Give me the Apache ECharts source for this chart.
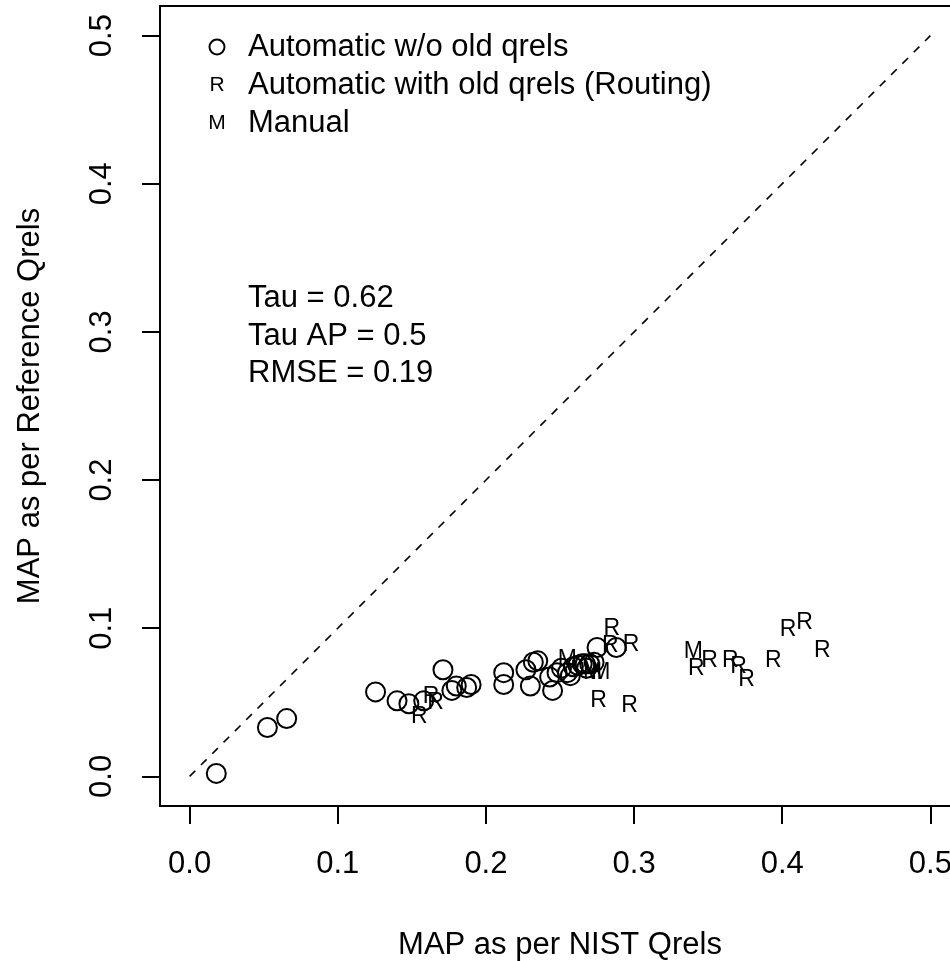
<!DOCTYPE html>
<html>
<head>
<meta charset="utf-8">
<script src="https://cdn.jsdelivr.net/npm/echarts@6/dist/echarts.min.js"></script>
<style>html,body{margin:0;padding:0;background:#fff;overflow:hidden;}#chart{width:950px;height:961px;}</style>
</head>
<body>
<div id="chart"></div>
<script>
// Data
const autoNoOld = [
  [0.018, 0.002], [0.0525, 0.033], [0.0655, 0.039], [0.1255, 0.057], [0.140, 0.051],
  [0.148, 0.049], [0.158, 0.051], [0.171, 0.072], [0.177, 0.058], [0.180, 0.061],
  [0.187, 0.060], [0.190, 0.062], [0.212, 0.070], [0.212, 0.062], [0.227, 0.072],
  [0.232, 0.077], [0.235, 0.078], [0.230, 0.061], [0.243, 0.067], [0.245, 0.058],
  [0.248, 0.070], [0.251, 0.073], [0.255, 0.070], [0.257, 0.068], [0.259, 0.074],
  [0.262, 0.075], [0.265, 0.076], [0.267, 0.076], [0.268, 0.073], [0.270, 0.076],
  [0.273, 0.077], [0.275, 0.087], [0.288, 0.087]
];
const routing = [
  [0.155, 0.040], [0.163, 0.054], [0.166, 0.050], [0.276, 0.051], [0.297, 0.048],
  [0.285, 0.100], [0.284, 0.088], [0.298, 0.089], [0.342, 0.073], [0.351, 0.078],
  [0.365, 0.078], [0.3705, 0.074], [0.376, 0.065], [0.394, 0.078], [0.404, 0.099],
  [0.415, 0.104], [0.427, 0.085]
];
const manual = [
  [0.255, 0.079], [0.272, 0.070], [0.2775, 0.070], [0.340, 0.084]
];
const diagonal = [[0, 0], [0.5, 0.5]];
const tickValues = [0, 0.1, 0.2, 0.3, 0.4, 0.5];
const legendLabels = ['Automatic w/o old qrels', 'Automatic with old qrels (Routing)', 'Manual'];
const statLines = ['Tau = 0.62', 'Tau AP = 0.5', 'RMSE = 0.19'];
const xTitle = 'MAP as per NIST Qrels';
const yTitle = 'MAP as per Reference Qrels';

const FONT = '"Liberation Sans", Arial, Helvetica, sans-serif';
const FS = 31;
const chart = echarts.init(document.getElementById('chart'), null, {renderer: 'canvas'});

function axisCommon(isX) {
  return {
    type: 'value',
    min: -0.02,
    max: 0.52,
    splitLine: {show: false},
    axisLine: {show: true, onZero: false, lineStyle: {color: '#000', width: 2}},
    axisTick: {show: true, inside: false, length: 18, lineStyle: {color: '#000', width: 2}, customValues: tickValues},
    axisLabel: {
      customValues: tickValues,
      formatter: v => Number(v).toFixed(1),
      fontSize: FS, color: '#000', fontFamily: FONT,
      margin: isX ? 43 : 42,
      rotate: isX ? 0 : 90
    },
    name: isX ? xTitle : yTitle,
    nameLocation: 'middle',
    nameGap: isX ? 124 : 114,
    nameRotate: isX ? 0 : 90,
    nameTextStyle: {fontSize: FS, color: '#000', fontFamily: FONT}
  };
}

const letterSeries = (data, ch) => ({
  type: 'scatter',
  data: data,
  symbol: 'circle',
  symbolSize: 1,
  itemStyle: {color: 'rgba(0,0,0,0)', opacity: 1},
  label: {show: true, position: 'inside', formatter: ch, fontSize: 23, color: '#000',
          fontFamily: FONT, textBorderWidth: 0, opacity: 1},
  emphasis: {disabled: true},
  z: 3
});

const legendY = [47, 85, 123];
const statY = [298, 336, 373];
const graphics = [
  {type: 'circle', shape: {cx: 217, cy: legendY[0], r: 7.5}, style: {fill: 'none', stroke: '#000', lineWidth: 2}},
  {type: 'text', style: {x: 217, y: legendY[1], text: 'R', font: '21px ' + FONT, fill: '#000', align: 'center', verticalAlign: 'middle'}},
  {type: 'text', style: {x: 217, y: legendY[2], text: 'M', font: '21px ' + FONT, fill: '#000', align: 'center', verticalAlign: 'middle'}}
];
legendLabels.forEach((t, i) => graphics.push({type: 'text', style: {x: 248, y: legendY[i], text: t, font: FS + 'px ' + FONT, fill: '#000', verticalAlign: 'middle'}}));
statLines.forEach((t, i) => graphics.push({type: 'text', style: {x: 248, y: statY[i], text: t, font: FS + 'px ' + FONT, fill: '#000', verticalAlign: 'middle'}}));

chart.setOption({
  animation: false,
  backgroundColor: '#fff',
  grid: {left: 160, top: 6, width: 800, height: 800, outerBoundsMode: 'none', containLabel: false,
         show: true, borderColor: '#000', borderWidth: 2, backgroundColor: 'rgba(0,0,0,0)'},
  xAxis: axisCommon(true),
  yAxis: axisCommon(false),
  graphic: graphics,
  series: [
    {
      type: 'line', data: diagonal, symbol: 'none', silent: true,
      lineStyle: {color: '#000', width: 1.6, type: [8, 8]}, z: 1
    },
    {
      type: 'scatter', data: autoNoOld, symbol: 'circle', symbolSize: 19,
      itemStyle: {color: 'rgba(0,0,0,0)', borderColor: '#000', borderWidth: 2, opacity: 1},
      emphasis: {disabled: true}, z: 2
    },
    letterSeries(routing, 'R'),
    letterSeries(manual, 'M')
  ]
});
</script>
</body>
</html>
